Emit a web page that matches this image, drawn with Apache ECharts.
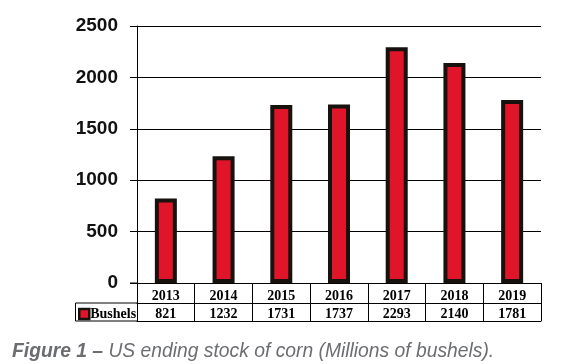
<!DOCTYPE html>
<html><head><meta charset="utf-8">
<script src="https://cdn.jsdelivr.net/npm/echarts@6/dist/echarts.min.js"></script>
<style>html,body{margin:0;padding:0;background:#fff}#c{width:564px;height:364px}</style>
</head><body><div id="c"></div>
<script>
const years = ['2013','2014','2015','2016','2017','2018','2019'];
const bushels = [821,1232,1731,1737,2293,2140,1781];
const seriesName = 'Bushels';
const caption = 'Figure 1 –';
const captionRest = ' US ending stock of corn (Millions of bushels).';

const chart = echarts.init(document.getElementById('c'));
const serif = '"Liberation Serif","Times New Roman",serif';
const sans = '"Liberation Sans",Arial,sans-serif';
const lineC = '#000';
chart.setOption({
  animation:false,
  grid:{left:137,right:23,top:26,bottom:81},
  title:{left:7,top:337,text:'{b|'+caption+'}{r|'+captionRest+'}',
    textStyle:{rich:{
      b:{fontFamily:sans,fontStyle:'italic',fontWeight:'bold',fontSize:19.3,color:'#6b6d70'},
      r:{fontFamily:sans,fontStyle:'italic',fontWeight:'normal',fontSize:19.3,color:'#6b6d70'}}}},
  legend:{left:78,top:307,itemWidth:10,itemHeight:10,itemGap:0,padding:0,
    data:[{name:seriesName,icon:'rect',itemStyle:{color:'#e0152a',borderColor:'#17120d',borderWidth:2.5}}],
    textStyle:{fontFamily:serif,fontWeight:'bold',fontSize:14,color:'#000',padding:[0,0,0,-4]}},
  xAxis:[{type:'category',data:years,
      axisLine:{lineStyle:{color:lineC,width:1}},
      axisTick:{show:true,interval:0,length:38,lineStyle:{color:lineC}},
      axisLabel:{interval:0,margin:4,formatter:(v,i)=>'{y|'+v+'}\n{n|'+bushels[i]+'}',
        rich:{y:{fontFamily:serif,fontWeight:'bold',fontSize:14,color:'#000',height:19,lineHeight:19},
              n:{fontFamily:serif,fontWeight:'bold',fontSize:14,color:'#000',height:17,lineHeight:17}}}},
    {type:'category',data:years,position:'bottom',offset:20,
      axisLine:{show:true,lineStyle:{color:lineC}},axisTick:{show:false},axisLabel:{show:false}},
    {type:'category',data:years,position:'bottom',offset:38,
      axisLine:{show:true,lineStyle:{color:lineC}},axisTick:{show:false},axisLabel:{show:false}}],
  yAxis:{type:'value',min:0,max:2500,interval:500,
    axisLine:{show:true,lineStyle:{color:lineC}},
    axisTick:{show:true,length:7,lineStyle:{color:lineC}},
    splitLine:{lineStyle:{color:lineC,width:1}},
    axisLabel:{margin:19,fontFamily:sans,fontWeight:'bold',fontSize:19,color:'#111',formatter:v=>String(v)}},
  series:[{name:seriesName,type:'bar',data:bushels,barWidth:22,
    itemStyle:{color:'#e0152a',borderColor:'#17120d',borderWidth:4}}]
});
const x0 = chart.convertToPixel({xAxisIndex:0}, years[0]);
const catW = chart.convertToPixel({xAxisIndex:0}, years[1]) - x0;
const left = x0 - catW/2;
const yZero = chart.convertToPixel({yAxisIndex:0}, 0);
chart.setOption({graphic:[
  {type:'polyline',shape:{points:[[left+0.5,yZero+20],[75.5,yZero+20],[75.5,yZero+38],[left+0.5,yZero+38]]},
   style:{stroke:lineC,lineWidth:1,fill:null}},
  {type:'line',shape:{x1:130,y1:yZero,x2:left,y2:yZero},style:{stroke:lineC,lineWidth:1}}
]});
</script></body></html>
